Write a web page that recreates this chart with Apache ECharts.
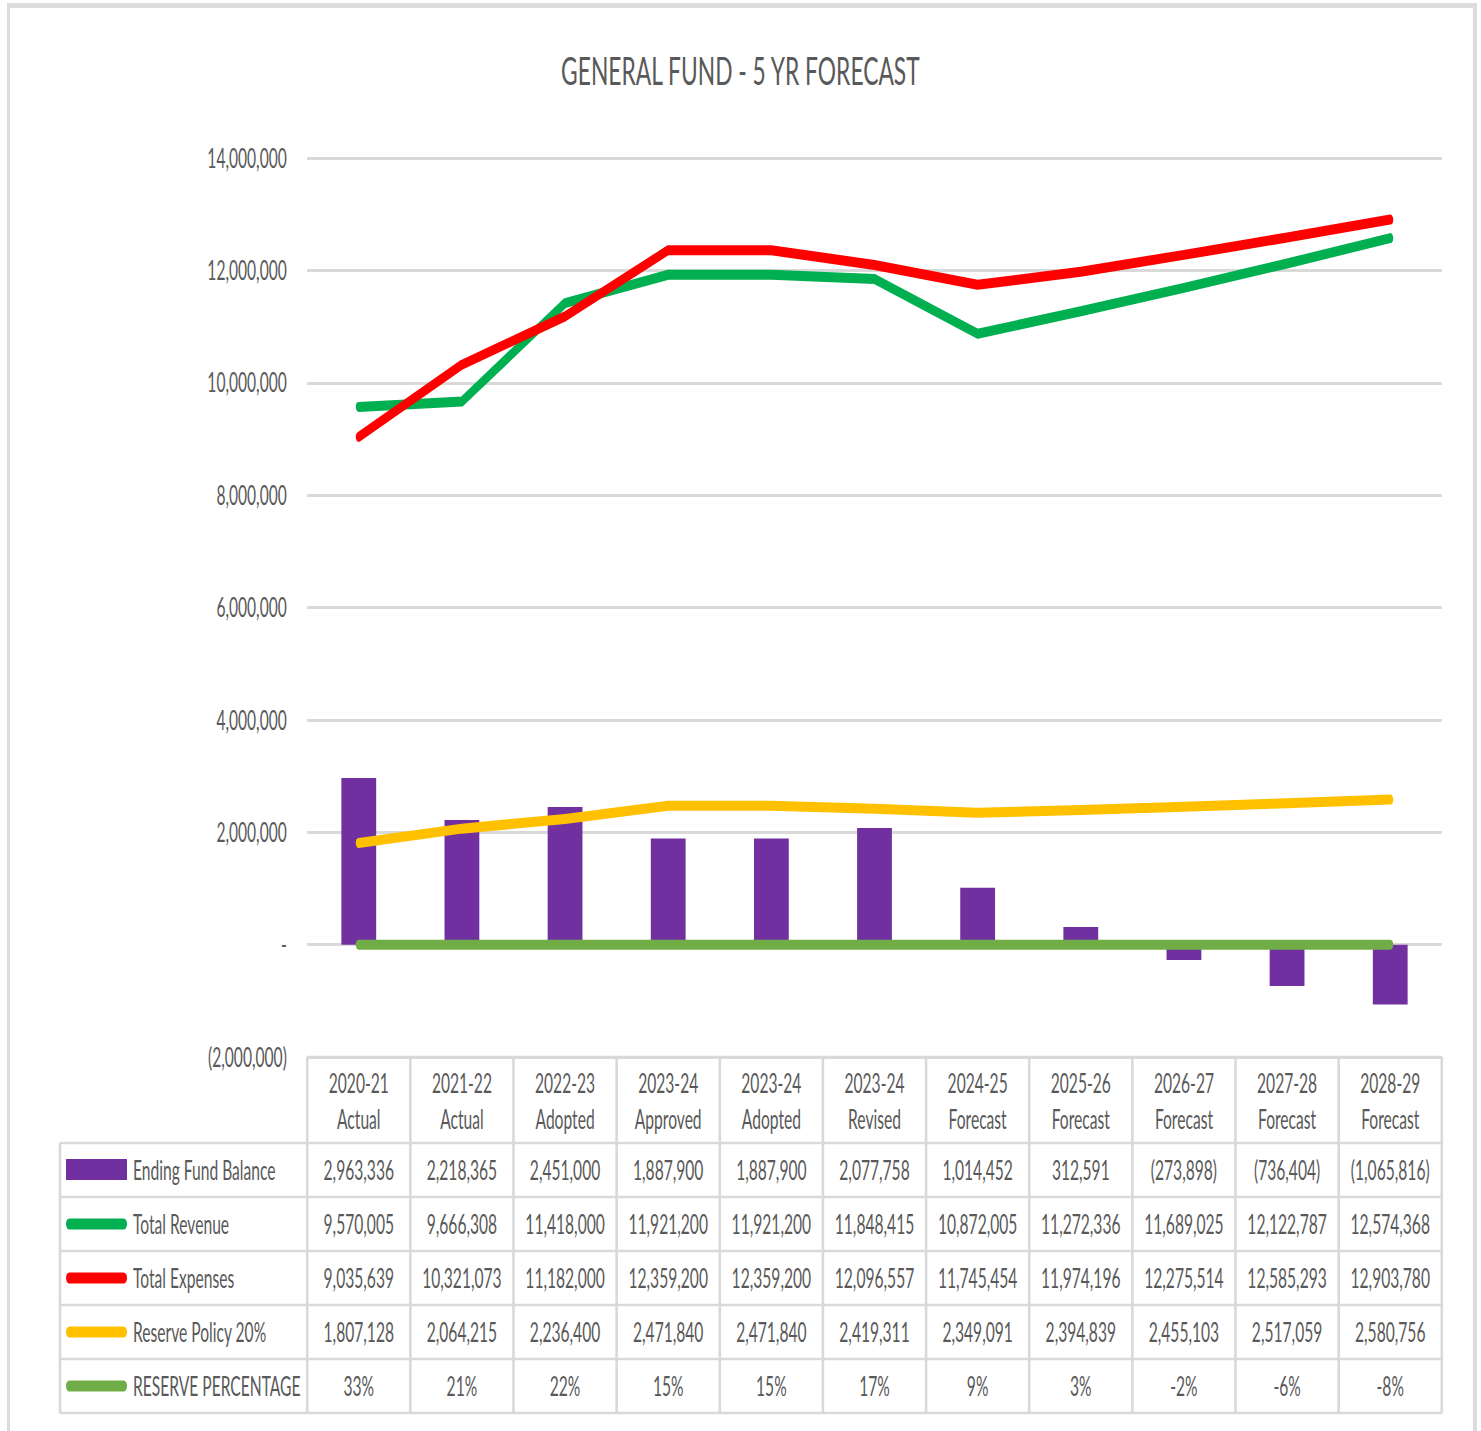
<!DOCTYPE html>
<html>
<head>
<meta charset="utf-8">
<script src="https://cdn.jsdelivr.net/npm/echarts@6/dist/echarts.min.js"></script>
<style>
html,body{margin:0;padding:0;background:#fff;overflow:hidden;}
#wrap{width:1481px;height:1431px;overflow:hidden;position:relative;background:#fff;}
#chart{width:2468px;height:1431px;transform:scaleX(0.6);transform-origin:0 0;}
</style>
</head>
<body>
<div id="wrap"><div id="chart"></div></div>
<script>
// ---- data ----
const periods = ['2020-21','2021-22','2022-23','2023-24','2023-24','2023-24','2024-25','2025-26','2026-27','2027-28','2028-29'];
const stages  = ['Actual','Actual','Adopted','Approved','Adopted','Revised','Forecast','Forecast','Forecast','Forecast','Forecast'];
const categories = periods.map((p, i) => p + '\n' + stages[i]);

const endingFundBalance = [2963336, 2218365, 2451000, 1887900, 1887900, 2077758, 1014452, 312591, -273898, -736404, -1065816];
const totalRevenue      = [9570005, 9666308, 11418000, 11921200, 11921200, 11848415, 10872005, 11272336, 11689025, 12122787, 12574368];
const totalExpenses     = [9035639, 10321073, 11182000, 12359200, 12359200, 12096557, 11745454, 11974196, 12275514, 12585293, 12903780];
const reservePolicy     = [1807128, 2064215, 2236400, 2471840, 2471840, 2419311, 2349091, 2394839, 2455103, 2517059, 2580756];
const reservePercentage = [0.33, 0.21, 0.22, 0.15, 0.15, 0.17, 0.09, 0.03, -0.02, -0.06, -0.08];

const seriesNames = ['Ending Fund Balance', 'Total Revenue', 'Total Expenses', 'Reserve Policy 20%', 'RESERVE PERCENTAGE'];
const seriesColors = ['#7030A0', '#00B050', '#FF0000', '#FFC000', '#70AD47'];

const yMin = -2000000, yMax = 14000000, yStep = 2000000;
const titleText = 'GENERAL FUND - 5 YR FORECAST';

// ---- formatting ----
const SX = 0.6;              // horizontal squeeze of the whole picture
const FONT = 'Lato';
const TXT = '#595959';
function fmtNum(v) {
  if (v === 0) return '-';
  const s = Math.abs(Math.round(v)).toLocaleString('en-US');
  return v < 0 ? '(' + s + ')' : s;
}
function fmtPct(v) { return Math.round(v * 100) + '%'; }

const chart = echarts.init(document.getElementById('chart'), null, { renderer: 'svg' });

const option = {
  animation: false,
  backgroundColor: '#fff',
  title: {
    text: titleText,
    left: 'center',
    top: 46,
    textStyle: { fontFamily: FONT, fontSize: 38, fontWeight: 'normal', color: TXT }
  },
  grid: { left: 512, right: 65, top: 158, bottom: 374, containLabel: false },
  xAxis: {
    type: 'category',
    data: categories,
    boundaryGap: true,
    axisLine: { show: false },
    axisTick: { show: false },
    axisLabel: { show: false },
    splitLine: { show: false }
  },
  yAxis: {
    type: 'value',
    min: yMin, max: yMax, interval: yStep,
    axisLine: { show: false },
    axisTick: { show: false },
    axisLabel: {
      formatter: v => fmtNum(v),
      fontFamily: FONT, fontSize: 26, color: TXT, margin: 34
    },
    splitLine: { lineStyle: { color: '#d9d9d9', width: 3 } }
  },
  series: [
    { name: seriesNames[0], type: 'bar', data: endingFundBalance, barWidth: 58,
      itemStyle: { color: seriesColors[0] }, z: 2 },
    { name: seriesNames[1], type: 'line', data: totalRevenue, symbol: 'none',
      lineStyle: { color: seriesColors[1], width: 10, cap: 'round', join: 'round' }, z: 3 },
    { name: seriesNames[2], type: 'line', data: totalExpenses, symbol: 'none',
      lineStyle: { color: seriesColors[2], width: 10, cap: 'round', join: 'round' }, z: 3 },
    { name: seriesNames[3], type: 'line', data: reservePolicy, symbol: 'none',
      lineStyle: { color: seriesColors[3], width: 10, cap: 'round', join: 'round' }, z: 3 },
    { name: seriesNames[4], type: 'line', data: reservePercentage, symbol: 'none',
      lineStyle: { color: seriesColors[4], width: 10, cap: 'round', join: 'round' }, z: 3 }
  ]
};
chart.setOption(option);

// ---- data table under the plot, aligned to the category axis ----
function buildTable() {
  const xs = categories.map(c => chart.convertToPixel({ xAxisIndex: 0 }, c));
  const step = xs[1] - xs[0];
  const leftX = xs[0] - step / 2;
  const rightX = xs[xs.length - 1] + step / 2;
  const top = chart.convertToPixel({ yAxisIndex: 0 }, yMin);
  const headerH = 86;
  const rowH = 54;
  const legendLeft = 60 / SX;
  const bottom = top + headerH + rowH * 5;
  const els = [];
  const gridColor = '#d9d9d9';
  const vW = 2.6 / SX, hW = 2.6;

  // frame of the whole picture
  els.push({ type: 'rect', shape: { x: 7 / SX, y: 3, width: (1477 - 7) / SX, height: 5 }, style: { fill: '#dcdcdc' }, silent: true });
  els.push({ type: 'rect', shape: { x: 7 / SX, y: 3, width: 3 / SX, height: 1431 }, style: { fill: '#dcdcdc' }, silent: true });
  els.push({ type: 'rect', shape: { x: 1473 / SX, y: 3, width: 4 / SX, height: 1431 }, style: { fill: '#dcdcdc' }, silent: true });

  // horizontal lines
  els.push({ type: 'line', shape: { x1: leftX, y1: top, x2: rightX, y2: top }, style: { stroke: gridColor, lineWidth: hW } });
  for (let r = 0; r <= 5; r++) {
    const y = top + headerH + r * rowH;
    els.push({ type: 'line', shape: { x1: legendLeft, y1: y, x2: rightX, y2: y }, style: { stroke: gridColor, lineWidth: hW } });
  }
  // vertical lines
  for (let c = 0; c <= xs.length; c++) {
    const x = leftX + c * step;
    els.push({ type: 'line', shape: { x1: x, y1: top, x2: x, y2: bottom }, style: { stroke: gridColor, lineWidth: vW } });
  }
  els.push({ type: 'line', shape: { x1: legendLeft, y1: top + headerH, x2: legendLeft, y2: bottom }, style: { stroke: gridColor, lineWidth: vW } });

  const cellText = (x, y, text) => ({
    type: 'text', x: x, y: y,
    style: { text: text, fill: TXT, fontFamily: FONT, fontSize: 26, align: 'center', verticalAlign: 'middle' }
  });

  // header
  xs.forEach((x, i) => {
    els.push(cellText(x, top + 26, periods[i]));
    els.push(cellText(x, top + 62, stages[i]));
  });

  const rows = [
    endingFundBalance.map(fmtNum),
    totalRevenue.map(fmtNum),
    totalExpenses.map(fmtNum),
    reservePolicy.map(fmtNum),
    reservePercentage.map(fmtPct)
  ];
  rows.forEach((vals, r) => {
    const cy = top + headerH + r * rowH + rowH / 2;
    vals.forEach((t, i) => els.push(cellText(xs[i], cy, t)));
    // legend key
    const kx = 66 / SX, kw = 61 / SX;
    if (r === 0) {
      els.push({ type: 'rect', shape: { x: kx, y: cy - 11, width: kw, height: 21 }, style: { fill: seriesColors[r] } });
    } else {
      els.push({ type: 'rect', shape: { x: kx, y: cy - 5.5, width: kw, height: 11, r: 5.5 }, style: { fill: seriesColors[r] } });
    }
    els.push({
      type: 'text', x: 133 / SX, y: cy,
      style: { text: seriesNames[r], fill: TXT, fontFamily: FONT, fontSize: 26, align: 'left', verticalAlign: 'middle' }
    });
  });

  chart.setOption({ graphic: { elements: els } });
}
buildTable();
</script>
</body>
</html>
